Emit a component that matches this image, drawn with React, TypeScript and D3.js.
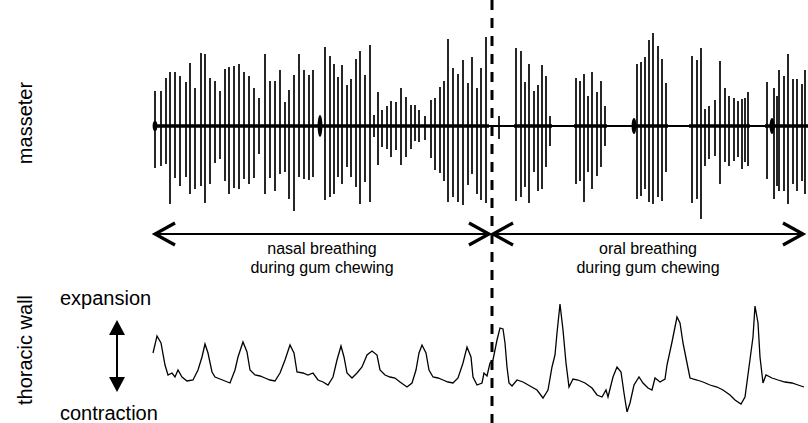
import React from "react";
import * as d3 from "d3";

// masseter EMG spikes: [time, upward amplitude, downward amplitude]
const nasalSpikes: [number, number, number][] = [
  [5, 35, 42], [11, 35, 40], [16, 48, 38], [20, 54, 78], [25, 54, 52], [30, 50, 60],
  [36, 44, 51], [40, 63, 68], [45, 38, 63], [51, 73, 60], [55, 72, 77], [60, 48, 58],
  [65, 45, 37], [70, 35, 33], [75, 57, 55], [79, 59, 68], [84, 60, 62], [89, 62, 63],
  [94, 54, 53], [99, 50, 58], [104, 38, 52], [109, 28, 28], [115, 72, 68], [120, 45, 52],
  [125, 45, 65], [130, 56, 48], [135, 24, 46], [139, 36, 73], [144, 51, 85], [149, 72, 51],
  [154, 56, 53], [159, 51, 54], [163, 56, 51],
  [175, 79, 74], [180, 70, 71], [184, 62, 68], [188, 49, 51], [192, 61, 58], [197, 41, 41],
  [201, 47, 51], [206, 67, 61], [210, 75, 78], [215, 51, 56], [220, 81, 76], [224, 11, 11],
  [228, 34, 39], [232, 16, 21], [237, 20, 23], [241, 25, 31], [246, 24, 24], [251, 38, 39],
  [256, 29, 31], [261, 21, 23], [265, 21, 15],
  [269, 16, 16], [275, 10, 14], [281, 26, 32], [285, 28, 44], [290, 39, 47], [294, 45, 55],
  [298, 87, 76], [303, 58, 71], [308, 52, 76], [313, 66, 79], [318, 43, 59], [322, 69, 48],
  [327, 38, 68], [331, 58, 74], [336, 89, 77],
];

const oralSpikes: [number, number, number][] = [
  [349, 10, 13],
  [366, 78, 75], [371, 75, 71], [375, 44, 61], [379, 62, 77], [384, 35, 46], [388, 41, 65],
  [392, 61, 63], [396, 50, 41], [400, 10, 20],
  [426, 48, 58], [430, 45, 55], [434, 52, 76], [438, 30, 46], [442, 54, 63], [447, 34, 50],
  [451, 45, 41], [455, 20, 20],
  [487, 62, 73], [491, 64, 70], [495, 69, 63], [499, 86, 76], [503, 93, 78], [508, 80, 71],
  [512, 67, 75], [516, 43, 46],
  [542, 70, 77], [547, 66, 73], [551, 78, 93], [555, 17, 40], [559, 20, 33], [565, 26, 30],
  [570, 65, 58], [575, 38, 36], [579, 30, 40], [584, 28, 35], [588, 25, 31], [592, 27, 43],
  [595, 28, 36], [598, 34, 40],
  [617, 44, 53], [624, 38, 73], [627, 30, 60], [629, 56, 65], [634, 50, 65], [638, 72, 78],
  [643, 47, 58], [647, 47, 65], [652, 42, 55], [655, 56, 68],
];

// burst onsets with dense activity: [time, amplitude]
const onsetBlobs: [number, number][] = [[5, 5], [170, 11], [484, 8], [622, 8]];

// stretches of thick (noisy) baseline: [start, end]
const activeSpans: [number, number][] = [
  [3, 339], [364, 402], [424, 457], [482, 518], [539, 600], [615, 658],
];

// thoracic wall movement: [time, level]
const thoracicTrace: [number, number][] = [
  [3, 37], [7, 54], [11, 47], [15, 25], [18, 15], [22, 17], [25, 13], [28, 20], [32, 13],
  [37, 9], [43, 10], [48, 20], [52, 33], [55, 46], [58, 37], [62, 18], [65, 13], [70, 11],
  [75, 9], [80, 7], [85, 20], [88, 33], [93, 48], [97, 38], [100, 20], [105, 15], [110, 14],
  [115, 12], [120, 10], [125, 9], [130, 17], [135, 30], [140, 45], [144, 37], [147, 18],
  [153, 17], [158, 15], [163, 17], [168, 10], [173, 8], [178, 5], [183, 13], [187, 30],
  [191, 44], [194, 33], [197, 17], [202, 12], [207, 17], [212, 23], [217, 35], [222, 39],
  [227, 35], [230, 20], [235, 15], [240, 13], [245, 12], [250, 8], [257, 3], [262, 7],
  [266, 20], [269, 37], [272, 45], [276, 37], [279, 20], [283, 13], [288, 12], [293, 10],
  [298, 8], [303, 7], [308, 12], [313, 27], [317, 43], [321, 33], [323, 13], [327, 5],
  [332, 7], [334, 17], [337, 14], [340, 27], [343, 30], [347, 50], [350, 62], [353, 61],
  [355, 47], [357, 23], [359, 7], [362, 4], [367, 10], [373, 8], [380, 4], [387, 0],
  [393, -8], [398, 0], [402, 23], [405, 35], [407, 57], [410, 86], [413, 60], [416, 27],
  [419, 3], [423, 11], [428, 10], [435, 7], [442, 2], [447, -5], [452, -7], [456, 0],
  [458, -7], [463, 13], [467, 23], [471, 18], [474, -3], [477, -22], [480, -13], [484, 5],
  [489, 13], [493, 7], [498, 2], [502, 0], [505, 12], [510, 8], [515, 11], [517, 25],
  [522, 48], [525, 63], [527, 73], [530, 67], [533, 47], [536, 32], [540, 12], [547, 10],
  [553, 8], [560, 5], [567, 3], [573, 0], [580, -5], [585, -10], [591, -14], [595, -7],
  [599, 23], [603, 53], [605, 84], [608, 67], [610, 33], [613, 7], [616, 15], [622, 12],
  [628, 10], [635, 8], [642, 7], [648, 5], [654, 3],
];

const breathingSwitch = 342;
const phaseLabels = [
  { from: 5, to: 339, lines: ["nasal breathing", "during gum chewing"] },
  { from: 343, to: 653, lines: ["oral breathing", "during gum chewing"] },
];

const font = "'Liberation Sans', Arial, Helvetica, sans-serif";

export default function App() {
  const width = 808;
  const height = 423;

  const x = d3.scaleLinear().domain([0, 660]).range([150, 810]);
  const emg = d3.scaleLinear().domain([-100, 100]).range([226, 26]);
  const resp = d3.scaleLinear().domain([0, 100]).range([390, 290]);

  const traceLine = d3
    .line<[number, number]>()
    .x((d) => x(d[0]))
    .y((d) => resp(d[1]));

  const spikes = [...nasalSpikes, ...oralSpikes];
  const base = emg(0);
  const arrowY = 234;
  const switchX = x(breathingSwitch);

  const chevron = (tip: number, dir: number) =>
    `M${tip - dir * 20},${arrowY - 11} L${tip},${arrowY} L${tip - dir * 20},${arrowY + 11}`;

  return (
    <svg
      width={width}
      height={height}
      style={{ position: "absolute", left: 0, top: 0, background: "#fff" }}
      fontFamily={font}
    >
      {/* masseter EMG */}
      <line x1={x(3)} x2={x(658)} y1={base} y2={base} stroke="#000" strokeWidth={1.8} />
      {activeSpans.map(([a, b], i) => (
        <line key={"s" + i} x1={x(a)} x2={x(b)} y1={base} y2={base} stroke="#000" strokeWidth={3.4} />
      ))}
      {onsetBlobs.map(([t, a], i) => (
        <ellipse key={"b" + i} cx={x(t)} cy={base} rx={2.4} ry={base - emg(a)} fill="#000" />
      ))}
      {spikes.map(([t, up, down], i) => (
        <line
          key={"k" + i}
          x1={x(t)}
          x2={x(t)}
          y1={emg(up)}
          y2={emg(-down)}
          stroke="#000"
          strokeWidth={1.7}
        />
      ))}

      {/* phase arrows */}
      {phaseLabels.map((p, i) => {
        const x0 = x(p.from);
        const x1 = x(p.to);
        const cx = (x0 + x1) / 2;
        return (
          <g key={"p" + i}>
            <line x1={x0} x2={x1} y1={arrowY} y2={arrowY} stroke="#000" strokeWidth={2} />
            <path d={chevron(x0, -1)} fill="none" stroke="#000" strokeWidth={3.2} />
            <path d={chevron(x1, 1)} fill="none" stroke="#000" strokeWidth={3.2} />
            {p.lines.map((s, j) => (
              <text key={j} x={cx} y={254 + j * 19} textAnchor="middle" fontSize={16}>
                {s}
              </text>
            ))}
          </g>
        );
      })}

      {/* thoracic wall */}
      <path d={traceLine(thoracicTrace) ?? ""} fill="none" stroke="#000" strokeWidth={1.3} />

      {/* switch line */}
      <line
        x1={switchX}
        x2={switchX}
        y1={0}
        y2={height}
        stroke="#000"
        strokeWidth={3}
        strokeDasharray="10,8"
      />

      {/* labels */}
      <text transform="translate(32,123) rotate(-90)" textAnchor="middle" fontSize={20}>
        masseter
      </text>
      <text transform="translate(32,350) rotate(-90)" textAnchor="middle" fontSize={20}>
        thoracic wall
      </text>
      <text x={60} y={305} fontSize={20}>expansion</text>
      <text x={60} y={420} fontSize={20}>contraction</text>
      <line x1={117} x2={117} y1={334} y2={378} stroke="#000" strokeWidth={2} />
      <path d="M117,320 L109,335 L125,335 Z" fill="#000" />
      <path d="M117,392 L109,377 L125,377 Z" fill="#000" />
    </svg>
  );
}
